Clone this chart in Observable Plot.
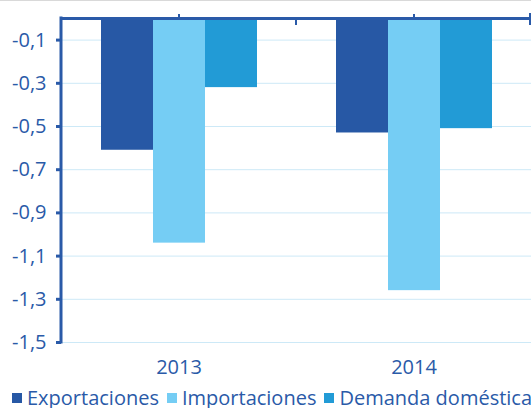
<!DOCTYPE html>
<html><head><meta charset="utf-8">
<script src="https://cdn.jsdelivr.net/npm/d3@7"></script>
<script src="https://cdn.jsdelivr.net/npm/@observablehq/plot@0.6"></script>
<style>
body{margin:0;background:#fff;font-family:"Open Sans",sans-serif;}
#wrap{width:531px;border-top:1px solid #d9d9d9;}
.legend{display:flex;align-items:center;height:20px;line-height:20px;padding-top:7px;margin-left:12px;font-size:20px;color:#2a5aa8;white-space:nowrap;}
.legend .sw{display:inline-block;width:10px;height:10px;margin-right:5px;}
.legend .it{display:flex;align-items:center;margin-right:8px;}
</style></head>
<body><div id="wrap"></div>
<script>
const years = ["2013", "2014"];
const series = ["Exportaciones", "Importaciones", "Demanda doméstica"];
const exportaciones = [-0.61, -0.53];
const importaciones = [-1.04, -1.26];
const demanda = [-0.32, -0.51];
const yTicks = [-0.1, -0.3, -0.5, -0.7, -0.9, -1.1, -1.3, -1.5];
const colors = ["#2758a5", "#75cdf4", "#229bd6"];
const textColor = "#2a5aa8";

const valuesBySeries = [exportaciones, importaciones, demanda];
const data = [];
years.forEach((yr, i) => series.forEach((s, j) => data.push({year: yr, series: s, value: valuesBySeries[j][i]})));

const fmt = d => d.toFixed(1).replace(".", ",");

const plot = Plot.plot({
  width: 531,
  height: 380,
  marginLeft: 60,
  marginRight: 0,
  marginTop: 17,
  marginBottom: 39,
  style: {fontFamily: "Open Sans", fontSize: "20px", color: textColor, background: "#fff"},
  fx: {domain: years, padding: 0, label: null},
  x: {domain: series, paddingInner: 0, paddingOuter: 0.74, axis: null},
  y: {domain: [-1.5, 0]},
  color: {domain: series, range: colors},
  marks: [
    Plot.gridY(yTicks, {stroke: "#cde9f7", strokeOpacity: 1}),
    Plot.barY(data, {fx: "year", x: "series", y: "value", fill: "series", inset: 0}),
    Plot.ruleY([0], {stroke: textColor, strokeWidth: 3}),
    Plot.axisY({ticks: yTicks, tickFormat: fmt, tickSize: 5, tickPadding: 10, label: null, stroke: textColor, strokeWidth: 3, fill: textColor, fontSize: 20}),
    Plot.axisFx({anchor: "top", tickSize: 5, tickFormat: () => "", label: null, stroke: textColor, strokeWidth: 2}),
    Plot.axisFx({anchor: "bottom", tickSize: 0, tickPadding: 17, label: null, fill: textColor, fontSize: 20})
  ]
});

// axis line on the left and boundary ticks on top, placed from the plot's scales
const ys = plot.scale("y");
const fxs = plot.scale("fx");
const svg = d3.select(plot);
const y0 = ys.apply(0), y1 = ys.apply(-1.5);
const xl = fxs.apply(years[0]);
svg.append("line").attr("x1", xl).attr("x2", xl).attr("y1", y0 - 1.5).attr("y2", y1 + 1.5)
  .attr("stroke", textColor).attr("stroke-width", 3);
years.forEach((yr, i) => {
  const xb = fxs.apply(yr) + fxs.bandwidth - (i === years.length - 1 ? 1 : 0);
  svg.append("line").attr("x1", xb).attr("x2", xb)
    .attr("y1", i === years.length - 1 ? y0 - 5 : y0).attr("y2", y0 + 7)
    .attr("stroke", textColor).attr("stroke-width", 2);
});

const wrap = document.getElementById("wrap");
wrap.appendChild(plot);
const leg = document.createElement("div");
leg.className = "legend";
series.forEach((s, j) => {
  const it = document.createElement("span");
  it.className = "it";
  it.innerHTML = `<span class="sw" style="background:${colors[j]}"></span>${s}`;
  leg.appendChild(it);
});
wrap.appendChild(leg);
</script></body></html>
